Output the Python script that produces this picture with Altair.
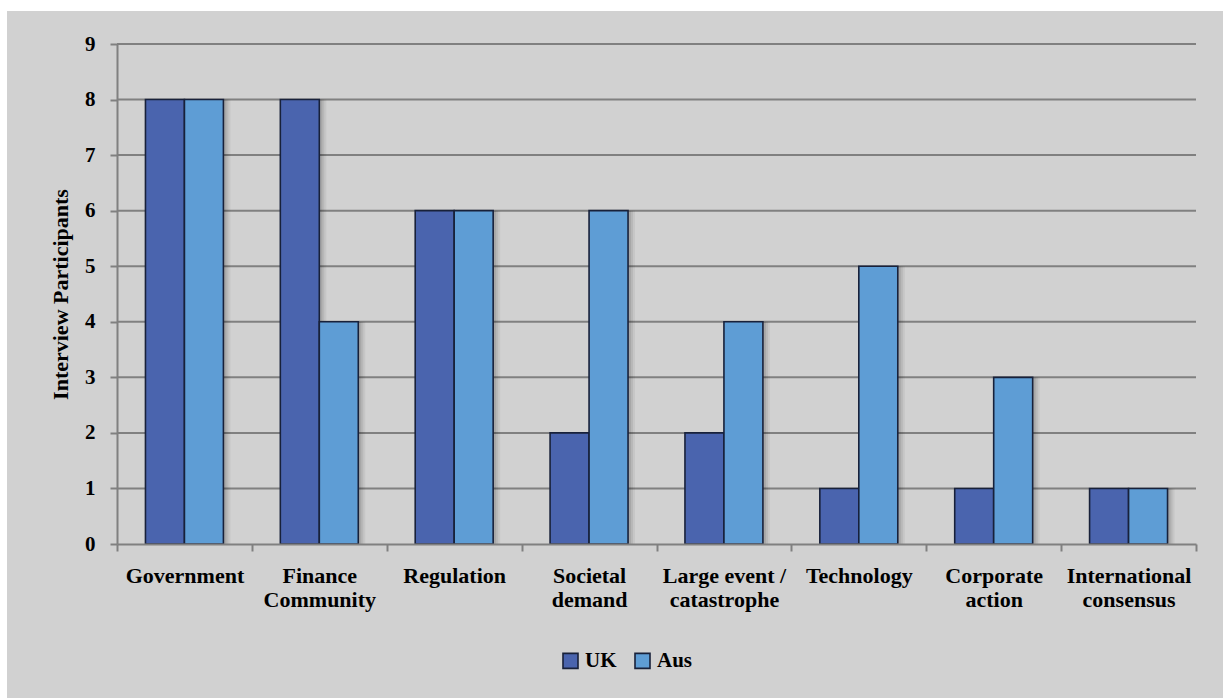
import altair as alt
import pandas as pd

# Survey counts: what drives change, by country
categories = [
    "Government",
    "Finance\nCommunity",
    "Regulation",
    "Societal\ndemand",
    "Large event /\ncatastrophe",
    "Technology",
    "Corporate\naction",
    "International\nconsensus",
]
uk = [8, 8, 6, 2, 2, 1, 1, 1]
aus = [8, 4, 6, 6, 4, 5, 3, 1]
countries = ["UK", "Aus"]
y_ticks = list(range(0, 10))

rows = []
for c, u, a in zip(categories, uk, aus):
    rows.append({"category": c, "country": "UK", "value": u})
    rows.append({"category": c, "country": "Aus", "value": a})
df = pd.DataFrame(rows)
grid_df = pd.DataFrame({"v": y_ticks[1:]})

W, H = 1079, 500
STEP = W / len(categories)
FONT = "Liberation Serif"
GRID = "#808080"
BG = "#d1d1d1"
EDGE = "#18213a"

y_scale = alt.Scale(domain=[0, 9], nice=False)
x_scale = alt.Scale(paddingInner=0, paddingOuter=0)


def offset_scale(shift):
    # pair of bars centred in each category slot, optionally nudged right
    return alt.Scale(paddingInner=0, paddingOuter=0.73, range=[shift, STEP + shift])


# grey panel behind the plot, leaving a thin white edge top and left
panel = alt.Chart(pd.DataFrame({"k": [0]})).mark_rect(color=BG).encode(
    x=alt.value(-110), x2=alt.value(W + 40), y=alt.value(-33), y2=alt.value(H + 170)
)

grid = alt.Chart(grid_df).mark_rule(color=GRID, strokeWidth=2).encode(
    y=alt.Y("v:Q", scale=y_scale),
    x=alt.value(0),
    x2=alt.value(W),
)

x_enc = alt.X(
    "category:N",
    sort=categories,
    scale=x_scale,
    axis=alt.Axis(
        title=None,
        labelAngle=0,
        labelExpr="datum.value ? split(datum.value, '\\n') : ''",
        labelFont=FONT,
        labelFontSize=22,
        labelFontWeight="bold",
        labelColor="#000000",
        labelLineHeight=24,
        labelPadding=14,
        labelBaseline="top",
        tickBand="extent",
        tickColor=GRID,
        tickWidth=2,
        tickSize=7,
        domainColor=GRID,
        domainWidth=2,
        zindex=1,
    ),
)
y_enc = alt.Y(
    "value:Q",
    scale=y_scale,
    axis=alt.Axis(
        title="Interview Participants",
        values=y_ticks,
        format="d",
        grid=False,
        labelFont=FONT,
        labelFontSize=21,
        labelFontWeight="bold",
        labelColor="#000000",
        labelPadding=15,
        tickColor=GRID,
        tickWidth=2,
        tickSize=7,
        domainColor=GRID,
        domainWidth=2,
        titleFont=FONT,
        titleFontSize=22,
        titleFontWeight="bold",
        titleColor="#000000",
        titlePadding=12,
        zindex=1,
    ),
)


def shadow(shift, alpha):
    return alt.Chart(df).mark_bar(color="#000000", opacity=alpha).encode(
        x=x_enc,
        xOffset=alt.XOffset("country:N", sort=countries, scale=offset_scale(shift)),
        y=y_enc,
    )


bars = alt.Chart(df).mark_bar(stroke=EDGE, strokeWidth=1.6).encode(
    x=x_enc,
    xOffset=alt.XOffset("country:N", sort=countries, scale=offset_scale(0)),
    y=y_enc,
    color=alt.Color(
        "country:N",
        sort=countries,
        scale=alt.Scale(domain=countries, range=["#4a64ae", "#5e9dd5"]),
        legend=alt.Legend(
            title=None,
            orient="none",
            direction="horizontal",
            legendX=443,
            legendY=606,
            symbolType="square",
            symbolSize=225,
            symbolStrokeColor=EDGE,
            symbolStrokeWidth=1.6,
            symbolOpacity=1,
            labelFont=FONT,
            labelFontSize=21,
            labelFontWeight="bold",
            labelColor="#000000",
            labelOffset=4,
            columnPadding=14,
        ),
    ),
)

chart = (
    alt.layer(panel, grid, shadow(7, 0.05), shadow(5, 0.07), shadow(3, 0.09), bars)
    .resolve_scale(xOffset="independent")
    .properties(
        width=W,
        height=H,
        background="#ffffff",
        padding={"left": 117, "top": 44, "right": 27, "bottom": 154},
        autosize=alt.AutoSizeParams(type="none"),
    )
    .configure_view(stroke=None)
)

chart.save("out.html", embed_options={"renderer": "svg", "actions": False})
